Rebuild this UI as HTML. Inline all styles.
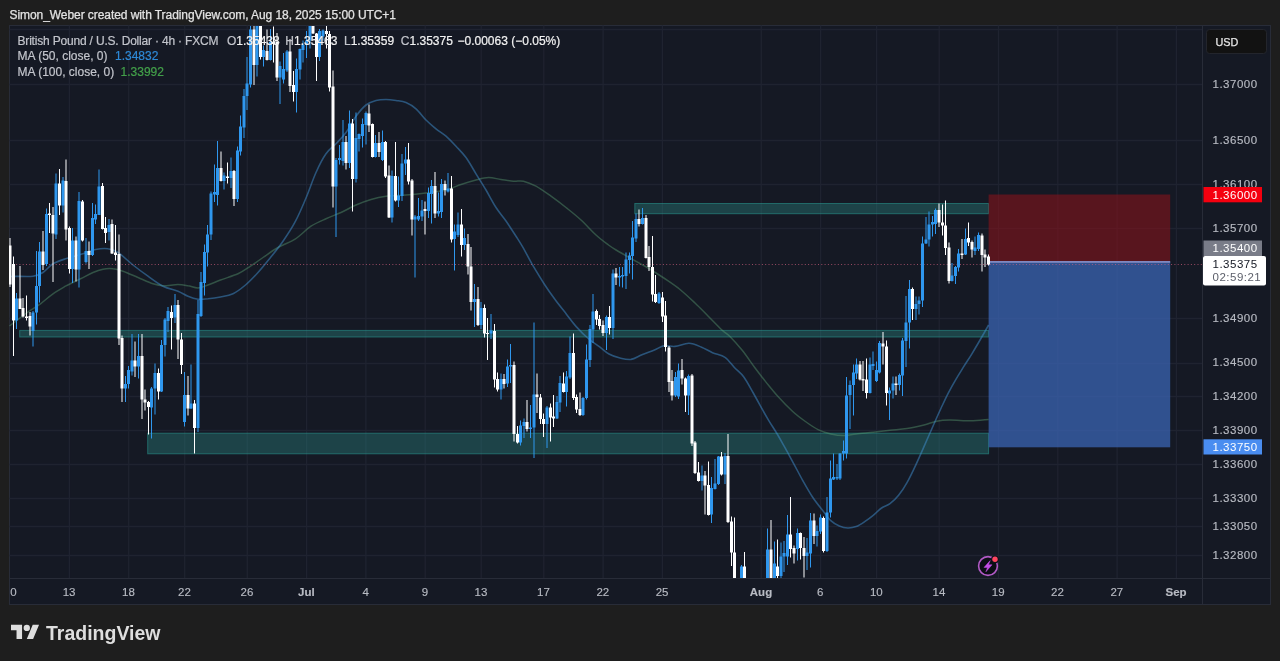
<!DOCTYPE html>
<html><head><meta charset="utf-8"><title>GBPUSD</title>
<style>html,body{margin:0;padding:0;background:#1e1e1e;overflow:hidden}body{width:1280px;height:661px;font-family:"Liberation Sans",sans-serif}</style></head>
<body>
<svg width="1280" height="661" viewBox="0 0 1280 661" style="display:block;will-change:transform;font-family:'Liberation Sans',sans-serif">
<rect width="1280" height="661" fill="#1e1e1e"/>
<rect x="9.5" y="25.5" width="1261.0" height="579.0" fill="#151924" stroke="#282c38" stroke-width="1"/>
<defs><clipPath id="plot"><rect x="9.0" y="26.0" width="1193.5" height="552.5"/></clipPath></defs>
<g stroke="#1f2330" stroke-width="1.3">
<line x1="69.4" y1="25.5" x2="69.4" y2="578.5"/>
<line x1="128.7" y1="25.5" x2="128.7" y2="578.5"/>
<line x1="184.7" y1="25.5" x2="184.7" y2="578.5"/>
<line x1="247.3" y1="25.5" x2="247.3" y2="578.5"/>
<line x1="306.6" y1="25.5" x2="306.6" y2="578.5"/>
<line x1="365.9" y1="25.5" x2="365.9" y2="578.5"/>
<line x1="425.2" y1="25.5" x2="425.2" y2="578.5"/>
<line x1="481.2" y1="25.5" x2="481.2" y2="578.5"/>
<line x1="543.8" y1="25.5" x2="543.8" y2="578.5"/>
<line x1="603.1" y1="25.5" x2="603.1" y2="578.5"/>
<line x1="662.4" y1="25.5" x2="662.4" y2="578.5"/>
<line x1="761.3" y1="25.5" x2="761.3" y2="578.5"/>
<line x1="820.6" y1="25.5" x2="820.6" y2="578.5"/>
<line x1="876.6" y1="25.5" x2="876.6" y2="578.5"/>
<line x1="939.2" y1="25.5" x2="939.2" y2="578.5"/>
<line x1="998.5" y1="25.5" x2="998.5" y2="578.5"/>
<line x1="1057.8" y1="25.5" x2="1057.8" y2="578.5"/>
<line x1="1117.1" y1="25.5" x2="1117.1" y2="578.5"/>
<line x1="1176.4" y1="25.5" x2="1176.4" y2="578.5"/>
<line x1="9.5" y1="29.5" x2="1202.5" y2="29.5"/>
<line x1="9.5" y1="84.5" x2="1202.5" y2="84.5"/>
<line x1="9.5" y1="140.5" x2="1202.5" y2="140.5"/>
<line x1="9.5" y1="184.5" x2="1202.5" y2="184.5"/>
<line x1="9.5" y1="228.5" x2="1202.5" y2="228.5"/>
<line x1="9.5" y1="318.5" x2="1202.5" y2="318.5"/>
<line x1="9.5" y1="363.5" x2="1202.5" y2="363.5"/>
<line x1="9.5" y1="396.5" x2="1202.5" y2="396.5"/>
<line x1="9.5" y1="430.5" x2="1202.5" y2="430.5"/>
<line x1="9.5" y1="464.5" x2="1202.5" y2="464.5"/>
<line x1="9.5" y1="498.5" x2="1202.5" y2="498.5"/>
<line x1="9.5" y1="526.5" x2="1202.5" y2="526.5"/>
<line x1="9.5" y1="555.5" x2="1202.5" y2="555.5"/>
</g>
<g clip-path="url(#plot)">
<rect x="634.8" y="203.5" width="353.80000000000007" height="10.199999999999989" fill="#287f7c" fill-opacity="0.42" stroke="#2a9a92" stroke-opacity="0.55" stroke-width="1"/>
<rect x="19.7" y="330.4" width="968.9" height="6.600000000000023" fill="#287f7c" fill-opacity="0.42" stroke="#2a9a92" stroke-opacity="0.55" stroke-width="1"/>
<rect x="147.7" y="433.2" width="840.9000000000001" height="20.600000000000023" fill="#287f7c" fill-opacity="0.42" stroke="#2a9a92" stroke-opacity="0.55" stroke-width="1"/>
<rect x="988.6" y="194.5" width="181.6" height="67" fill="#85121a" fill-opacity="0.6"/>
<rect x="988.6" y="262" width="181.6" height="185.3" fill="#3b66b8" fill-opacity="0.72"/>
<rect x="988.6" y="261" width="181.6" height="1.8" fill="#7f88c0"/>
<path d="M9.5 326.0 C11.2 324.7 16.7 320.5 20.0 318.0 C23.3 315.5 25.8 313.6 29.2 311.2 C32.7 308.9 36.5 306.7 40.5 303.8 C44.5 300.8 48.8 296.7 53.0 293.8 C57.2 290.8 60.9 288.8 65.5 286.2 C70.1 283.8 75.9 281.0 80.5 278.8 C85.1 276.5 89.2 274.1 93.0 272.5 C96.8 270.9 99.7 269.9 103.0 269.2 C106.3 268.6 109.7 268.4 113.0 268.8 C116.3 269.1 118.8 269.8 123.0 271.2 C127.2 272.7 133.0 275.4 138.0 277.5 C143.0 279.6 148.8 282.4 153.0 283.8 C157.2 285.1 158.8 285.6 163.0 285.8 C167.2 285.9 173.8 284.5 178.0 284.5 C182.2 284.5 184.7 285.2 188.0 285.8 C191.3 286.3 194.7 288.1 198.0 288.0 C201.3 287.9 204.2 286.3 208.0 285.0 C211.8 283.7 215.5 281.9 220.5 280.0 C225.5 278.1 233.0 276.0 238.0 273.8 C243.0 271.5 246.3 269.0 250.5 266.2 C254.7 263.5 258.4 260.6 263.0 257.5 C267.6 254.4 272.6 250.6 278.0 247.5 C283.4 244.4 290.0 242.3 295.5 238.8 C301.0 235.2 305.9 229.6 311.0 226.2 C316.1 222.9 321.0 221.0 326.0 218.8 C331.0 216.5 336.0 214.8 341.0 212.5 C346.0 210.2 351.0 207.2 356.0 205.0 C361.0 202.8 366.0 201.0 371.0 199.5 C376.0 198.0 380.2 197.0 386.0 196.2 C391.8 195.5 399.3 195.5 406.0 195.0 C412.7 194.5 419.3 193.8 426.0 193.0 C432.7 192.2 440.2 191.4 446.0 190.0 C451.8 188.6 456.0 186.2 461.0 184.5 C466.0 182.8 471.4 181.2 476.0 180.0 C480.6 178.8 484.3 177.6 488.5 177.5 C492.7 177.4 496.8 178.9 501.0 179.5 C505.2 180.1 509.8 181.0 513.5 181.2 C517.2 181.5 519.8 180.4 523.5 181.2 C527.2 182.1 531.4 183.8 536.0 186.2 C540.6 188.8 546.0 192.7 551.0 196.2 C556.0 199.8 561.0 203.5 566.0 207.5 C571.0 211.5 576.0 215.4 581.0 220.0 C586.0 224.6 591.4 230.8 596.0 235.0 C600.6 239.2 605.0 242.4 608.5 245.0 C612.0 247.6 612.9 248.1 616.9 250.5 C620.9 252.9 627.3 256.5 632.5 259.4 C637.7 262.3 642.8 264.9 648.0 268.0 C653.2 271.1 658.5 274.5 663.8 278.0 C669.0 281.5 674.2 284.8 679.4 289.0 C684.6 293.2 690.2 298.5 695.0 303.0 C699.8 307.5 703.5 311.5 708.0 316.0 C712.5 320.5 718.3 326.6 721.9 330.0 C725.5 333.4 726.3 332.9 729.7 336.2 C733.1 339.6 738.0 345.1 742.2 350.3 C746.4 355.5 750.8 362.3 754.7 367.5 C758.6 372.7 761.7 376.8 765.6 381.6 C769.5 386.4 773.5 391.5 778.0 396.5 C782.5 401.5 788.1 407.3 792.7 411.5 C797.3 415.7 801.2 418.5 805.4 421.5 C809.6 424.5 813.8 427.5 818.0 429.6 C822.2 431.7 826.5 432.9 830.8 433.9 C835.0 434.9 839.3 435.6 843.5 435.6 C847.7 435.6 851.2 434.5 856.2 433.9 C861.2 433.3 867.6 432.8 873.2 432.2 C878.8 431.6 884.4 430.9 890.0 430.3 C895.6 429.7 901.3 429.5 907.0 428.6 C912.7 427.7 919.0 426.2 924.0 425.0 C929.0 423.8 932.5 422.0 936.7 421.2 C940.9 420.4 943.8 420.1 949.4 420.0 C955.0 419.9 964.1 420.8 970.6 420.8 C977.1 420.7 985.6 419.7 988.6 419.5" fill="none" stroke="#5fa878" stroke-opacity="0.4" stroke-width="1.5" stroke-linejoin="round"/>
<path d="M9.5 276.5 C10.5 276.5 11.6 276.3 15.5 276.2 C19.4 276.2 28.4 276.9 33.0 276.2 C37.6 275.6 39.7 274.6 43.0 272.5 C46.3 270.4 49.2 266.0 53.0 263.8 C56.8 261.5 60.5 260.4 65.5 258.8 C70.5 257.1 78.0 255.3 83.0 253.8 C88.0 252.2 91.3 250.3 95.5 249.5 C99.7 248.7 104.2 248.2 108.0 248.8 C111.8 249.2 113.8 249.8 118.0 252.5 C122.2 255.2 128.0 261.0 133.0 265.0 C138.0 269.0 143.0 272.7 148.0 276.2 C153.0 279.8 158.0 283.8 163.0 286.2 C168.0 288.8 173.8 289.6 178.0 291.2 C182.2 292.9 184.7 294.9 188.0 296.2 C191.3 297.6 194.7 298.8 198.0 299.2 C201.3 299.7 204.2 299.1 208.0 298.8 C211.8 298.4 216.3 297.8 220.5 297.0 C224.7 296.2 228.8 295.8 233.0 293.8 C237.2 291.8 241.3 288.5 245.5 285.0 C249.7 281.5 253.8 277.1 258.0 272.5 C262.2 267.9 266.3 262.7 270.5 257.5 C274.7 252.3 278.8 247.3 283.0 241.2 C287.2 235.2 291.7 228.5 295.5 221.2 C299.3 214.0 302.6 206.1 306.0 198.0 C309.4 189.9 312.7 179.9 316.0 172.5 C319.3 165.1 322.7 158.5 326.0 153.8 C329.3 149.0 332.7 147.3 336.0 143.8 C339.3 140.2 342.7 137.1 346.0 132.5 C349.3 127.9 352.7 120.8 356.0 116.2 C359.3 111.7 362.7 107.6 366.0 105.0 C369.3 102.4 372.7 101.4 376.0 100.5 C379.3 99.6 382.7 99.5 386.0 99.5 C389.3 99.5 392.7 100.0 396.0 100.5 C399.3 101.0 402.7 101.1 406.0 102.5 C409.3 103.9 412.7 105.8 416.0 108.8 C419.3 111.7 422.7 116.7 426.0 120.0 C429.3 123.3 432.7 126.0 436.0 128.8 C439.3 131.5 442.7 133.3 446.0 136.2 C449.3 139.2 452.7 142.7 456.0 146.2 C459.3 149.8 462.7 152.9 466.0 157.5 C469.3 162.1 472.7 168.3 476.0 173.8 C479.3 179.2 482.7 184.4 486.0 190.0 C489.3 195.6 492.7 202.3 496.0 207.5 C499.3 212.7 502.7 216.2 506.0 221.0 C509.3 225.8 513.2 231.9 516.0 236.2 C518.8 240.6 520.1 242.5 522.8 247.2 C525.5 251.9 528.6 258.1 532.2 264.4 C535.9 270.6 540.8 278.7 544.7 284.7 C548.6 290.7 552.0 295.4 555.6 300.3 C559.2 305.2 563.2 310.0 566.6 314.4 C570.0 318.8 572.6 322.5 576.2 326.6 C579.9 330.7 584.8 335.6 588.8 339.0 C592.7 342.4 596.3 344.4 599.7 346.9 C603.1 349.4 605.6 352.1 609.0 354.0 C612.4 355.9 616.3 357.1 620.0 358.0 C623.7 358.9 627.4 359.9 631.0 359.4 C634.6 358.8 638.0 356.3 641.9 354.7 C645.8 353.1 650.7 351.5 654.4 350.0 C658.1 348.5 660.6 346.4 664.0 345.8 C667.4 345.2 670.8 346.8 675.0 346.4 C679.2 346.0 684.6 343.2 689.0 343.3 C693.4 343.4 697.7 345.6 701.6 347.2 C705.5 348.8 708.6 351.0 712.5 352.7 C716.4 354.4 721.4 354.8 725.0 357.3 C728.6 359.8 731.3 364.2 734.4 367.5 C737.5 370.8 740.6 372.7 743.8 376.9 C746.9 381.1 749.9 387.0 753.0 392.5 C756.1 398.0 759.9 405.0 762.5 409.7 C765.1 414.4 766.4 416.7 768.8 420.6 C771.1 424.5 774.0 428.7 776.6 433.0 C779.2 437.3 781.5 441.5 784.4 446.6 C787.3 451.7 790.6 458.0 793.8 463.8 C796.9 469.5 799.9 475.5 803.0 481.0 C806.1 486.5 809.3 492.2 812.5 497.0 C815.7 501.8 819.2 506.1 822.3 510.0 C825.3 514.0 828.0 518.0 830.8 520.7 C833.6 523.4 836.5 524.8 839.3 526.0 C842.1 527.2 844.9 527.9 847.8 528.0 C850.6 528.1 853.4 527.6 856.2 526.6 C859.0 525.6 861.9 523.6 864.7 521.7 C867.5 519.8 870.4 517.7 873.2 515.4 C876.0 513.1 878.8 509.9 881.6 508.0 C884.4 506.1 887.2 505.8 890.0 503.7 C892.8 501.6 895.8 498.8 898.6 495.3 C901.4 491.8 904.2 487.6 907.0 482.6 C909.8 477.7 912.7 471.6 915.5 465.6 C918.3 459.6 921.2 453.0 924.0 446.6 C926.8 440.2 929.6 433.9 932.4 427.5 C935.2 421.1 938.2 414.3 940.9 408.5 C943.6 402.7 945.8 397.8 948.4 392.8 C951.0 387.8 953.6 383.2 956.2 378.8 C958.9 374.3 961.4 370.4 964.0 366.2 C966.6 362.1 969.0 358.5 971.9 353.8 C974.8 349.0 978.5 342.8 981.2 338.0 C984.0 333.2 987.4 327.2 988.6 325.0" fill="none" stroke="#3f8fd0" stroke-opacity="0.5" stroke-width="1.6" stroke-linejoin="round"/>
<line x1="9.5" y1="264.5" x2="1202.5" y2="264.5" stroke="#d2607f" stroke-opacity="0.7" stroke-width="1" stroke-dasharray="1 2.3"/>
<rect x="9.5" y="238.0" width="1" height="49.0" fill="#ffffff"/>
<rect x="13.0" y="256.5" width="1" height="99.5" fill="#ffffff"/>
<rect x="16.0" y="293.0" width="1" height="36.0" fill="#2f97ee"/>
<rect x="19.5" y="266.0" width="1" height="43.0" fill="#ffffff"/>
<rect x="22.5" y="298.0" width="1" height="19.5" fill="#ffffff"/>
<rect x="26.0" y="295.5" width="1" height="25.0" fill="#ffffff"/>
<rect x="29.5" y="312.0" width="1" height="23.5" fill="#ffffff"/>
<rect x="32.5" y="311.0" width="1" height="35.5" fill="#2f97ee"/>
<rect x="36.0" y="251.0" width="1" height="73.5" fill="#2f97ee"/>
<rect x="39.0" y="242.0" width="1" height="60.5" fill="#2f97ee"/>
<rect x="42.5" y="231.0" width="1" height="39.0" fill="#ffffff"/>
<rect x="46.0" y="208.5" width="1" height="57.5" fill="#2f97ee"/>
<rect x="49.0" y="203.0" width="1" height="30.0" fill="#ffffff"/>
<rect x="52.5" y="207.0" width="1" height="75.0" fill="#ffffff"/>
<rect x="55.5" y="173.5" width="1" height="65.5" fill="#2f97ee"/>
<rect x="59.0" y="169.0" width="1" height="46.0" fill="#ffffff"/>
<rect x="62.5" y="177.0" width="1" height="35.5" fill="#2f97ee"/>
<rect x="65.5" y="159.5" width="1" height="81.0" fill="#ffffff"/>
<rect x="69.0" y="226.5" width="1" height="47.0" fill="#ffffff"/>
<rect x="72.0" y="228.0" width="1" height="55.0" fill="#2f97ee"/>
<rect x="75.5" y="236.5" width="1" height="45.0" fill="#ffffff"/>
<rect x="78.5" y="192.0" width="1" height="95.5" fill="#2f97ee"/>
<rect x="82.0" y="200.0" width="1" height="41.5" fill="#ffffff"/>
<rect x="85.5" y="238.0" width="1" height="25.5" fill="#2f97ee"/>
<rect x="88.5" y="241.5" width="1" height="27.5" fill="#ffffff"/>
<rect x="92.0" y="203.0" width="1" height="53.0" fill="#2f97ee"/>
<rect x="95.0" y="204.5" width="1" height="19.5" fill="#2f97ee"/>
<rect x="98.5" y="169.5" width="1" height="45.5" fill="#2f97ee"/>
<rect x="102.0" y="183.0" width="1" height="46.5" fill="#ffffff"/>
<rect x="105.0" y="217.0" width="1" height="26.0" fill="#ffffff"/>
<rect x="108.5" y="219.0" width="1" height="21.5" fill="#2f97ee"/>
<rect x="111.5" y="219.5" width="1" height="34.5" fill="#ffffff"/>
<rect x="115.0" y="225.0" width="1" height="35.5" fill="#ffffff"/>
<rect x="118.5" y="234.5" width="1" height="110.5" fill="#ffffff"/>
<rect x="121.5" y="335.5" width="1" height="66.5" fill="#ffffff"/>
<rect x="125.0" y="376.0" width="1" height="26.0" fill="#2f97ee"/>
<rect x="128.0" y="366.0" width="1" height="22.5" fill="#2f97ee"/>
<rect x="131.5" y="334.0" width="1" height="41.5" fill="#2f97ee"/>
<rect x="134.5" y="341.5" width="1" height="35.5" fill="#ffffff"/>
<rect x="138.0" y="334.0" width="1" height="44.5" fill="#2f97ee"/>
<rect x="141.5" y="334.0" width="1" height="85.0" fill="#ffffff"/>
<rect x="144.5" y="389.5" width="1" height="21.0" fill="#ffffff"/>
<rect x="148.0" y="401.0" width="1" height="33.5" fill="#ffffff"/>
<rect x="151.0" y="387.0" width="1" height="51.5" fill="#2f97ee"/>
<rect x="154.5" y="363.5" width="1" height="51.0" fill="#2f97ee"/>
<rect x="158.0" y="368.5" width="1" height="31.0" fill="#ffffff"/>
<rect x="161.0" y="340.0" width="1" height="52.0" fill="#2f97ee"/>
<rect x="164.5" y="318.0" width="1" height="38.5" fill="#2f97ee"/>
<rect x="167.5" y="307.0" width="1" height="25.0" fill="#2f97ee"/>
<rect x="171.0" y="305.5" width="1" height="44.0" fill="#ffffff"/>
<rect x="174.5" y="294.0" width="1" height="29.0" fill="#2f97ee"/>
<rect x="177.5" y="300.0" width="1" height="59.0" fill="#ffffff"/>
<rect x="181.0" y="333.0" width="1" height="41.0" fill="#ffffff"/>
<rect x="184.0" y="372.0" width="1" height="54.5" fill="#2f97ee"/>
<rect x="187.5" y="376.0" width="1" height="39.5" fill="#ffffff"/>
<rect x="190.5" y="364.5" width="1" height="44.5" fill="#2f97ee"/>
<rect x="194.0" y="400.0" width="1" height="53.5" fill="#ffffff"/>
<rect x="197.5" y="300.0" width="1" height="132.0" fill="#2f97ee"/>
<rect x="200.5" y="272.0" width="1" height="45.0" fill="#2f97ee"/>
<rect x="204.0" y="244.5" width="1" height="51.0" fill="#2f97ee"/>
<rect x="207.0" y="225.0" width="1" height="41.5" fill="#2f97ee"/>
<rect x="210.5" y="191.5" width="1" height="48.5" fill="#2f97ee"/>
<rect x="214.0" y="164.5" width="1" height="37.5" fill="#2f97ee"/>
<rect x="217.0" y="141.0" width="1" height="64.5" fill="#2f97ee"/>
<rect x="220.5" y="151.5" width="1" height="30.0" fill="#ffffff"/>
<rect x="223.5" y="172.5" width="1" height="17.0" fill="#2f97ee"/>
<rect x="227.0" y="162.5" width="1" height="21.0" fill="#ffffff"/>
<rect x="230.5" y="157.5" width="1" height="30.5" fill="#2f97ee"/>
<rect x="233.5" y="170.0" width="1" height="36.0" fill="#ffffff"/>
<rect x="237.0" y="146.5" width="1" height="55.5" fill="#2f97ee"/>
<rect x="240.0" y="115.5" width="1" height="40.0" fill="#2f97ee"/>
<rect x="243.5" y="89.0" width="1" height="49.0" fill="#2f97ee"/>
<rect x="246.5" y="57.0" width="1" height="53.0" fill="#2f97ee"/>
<rect x="250.0" y="25.0" width="1" height="62.5" fill="#2f97ee"/>
<rect x="253.5" y="25.0" width="1" height="60.0" fill="#ffffff"/>
<rect x="256.5" y="25.0" width="1" height="51.5" fill="#2f97ee"/>
<rect x="260.0" y="25.0" width="1" height="34.5" fill="#ffffff"/>
<rect x="263.0" y="45.5" width="1" height="21.0" fill="#2f97ee"/>
<rect x="266.5" y="29.5" width="1" height="31.0" fill="#ffffff"/>
<rect x="270.0" y="29.0" width="1" height="31.5" fill="#2f97ee"/>
<rect x="273.0" y="26.5" width="1" height="36.0" fill="#ffffff"/>
<rect x="276.5" y="33.0" width="1" height="48.0" fill="#ffffff"/>
<rect x="279.5" y="61.5" width="1" height="42.5" fill="#2f97ee"/>
<rect x="283.0" y="53.0" width="1" height="30.5" fill="#2f97ee"/>
<rect x="286.5" y="50.0" width="1" height="22.0" fill="#2f97ee"/>
<rect x="289.5" y="39.0" width="1" height="53.0" fill="#ffffff"/>
<rect x="293.0" y="71.0" width="1" height="30.5" fill="#ffffff"/>
<rect x="296.0" y="58.5" width="1" height="54.0" fill="#2f97ee"/>
<rect x="299.5" y="48.5" width="1" height="31.0" fill="#2f97ee"/>
<rect x="302.5" y="40.5" width="1" height="22.0" fill="#2f97ee"/>
<rect x="306.0" y="31.0" width="1" height="27.0" fill="#2f97ee"/>
<rect x="309.5" y="25.0" width="1" height="23.5" fill="#2f97ee"/>
<rect x="312.5" y="25.0" width="1" height="9.0" fill="#ffffff"/>
<rect x="316.0" y="33.0" width="1" height="48.0" fill="#ffffff"/>
<rect x="319.0" y="29.0" width="1" height="32.0" fill="#2f97ee"/>
<rect x="322.5" y="29.5" width="1" height="11.0" fill="#2f97ee"/>
<rect x="326.0" y="26.0" width="1" height="22.5" fill="#ffffff"/>
<rect x="329.0" y="31.0" width="1" height="60.5" fill="#ffffff"/>
<rect x="332.5" y="70.5" width="1" height="137.0" fill="#ffffff"/>
<rect x="335.5" y="158.0" width="1" height="79.0" fill="#2f97ee"/>
<rect x="339.0" y="145.0" width="1" height="19.5" fill="#2f97ee"/>
<rect x="342.5" y="120.0" width="1" height="45.5" fill="#2f97ee"/>
<rect x="345.5" y="136.0" width="1" height="33.5" fill="#ffffff"/>
<rect x="349.0" y="110.5" width="1" height="57.5" fill="#2f97ee"/>
<rect x="352.0" y="119.0" width="1" height="92.5" fill="#ffffff"/>
<rect x="355.5" y="112.5" width="1" height="70.0" fill="#2f97ee"/>
<rect x="358.5" y="133.5" width="1" height="18.0" fill="#2f97ee"/>
<rect x="362.0" y="118.5" width="1" height="29.0" fill="#2f97ee"/>
<rect x="365.5" y="111.5" width="1" height="33.0" fill="#2f97ee"/>
<rect x="368.5" y="104.5" width="1" height="27.5" fill="#ffffff"/>
<rect x="372.0" y="123.5" width="1" height="34.0" fill="#ffffff"/>
<rect x="375.0" y="135.0" width="1" height="22.5" fill="#2f97ee"/>
<rect x="378.5" y="132.0" width="1" height="25.0" fill="#ffffff"/>
<rect x="382.0" y="130.5" width="1" height="30.5" fill="#2f97ee"/>
<rect x="385.0" y="141.0" width="1" height="37.0" fill="#ffffff"/>
<rect x="388.5" y="165.5" width="1" height="52.5" fill="#ffffff"/>
<rect x="391.5" y="170.5" width="1" height="52.0" fill="#2f97ee"/>
<rect x="395.0" y="142.0" width="1" height="59.5" fill="#ffffff"/>
<rect x="398.0" y="176.5" width="1" height="30.5" fill="#2f97ee"/>
<rect x="401.5" y="154.0" width="1" height="47.0" fill="#2f97ee"/>
<rect x="405.0" y="147.0" width="1" height="28.0" fill="#2f97ee"/>
<rect x="408.0" y="143.0" width="1" height="41.5" fill="#ffffff"/>
<rect x="411.5" y="179.0" width="1" height="56.5" fill="#ffffff"/>
<rect x="414.5" y="215.0" width="1" height="62.5" fill="#2f97ee"/>
<rect x="418.0" y="198.0" width="1" height="23.0" fill="#2f97ee"/>
<rect x="421.5" y="200.0" width="1" height="21.0" fill="#2f97ee"/>
<rect x="424.5" y="201.5" width="1" height="33.0" fill="#ffffff"/>
<rect x="428.0" y="187.5" width="1" height="30.5" fill="#2f97ee"/>
<rect x="431.0" y="180.0" width="1" height="43.5" fill="#2f97ee"/>
<rect x="434.5" y="172.0" width="1" height="46.0" fill="#ffffff"/>
<rect x="438.0" y="192.5" width="1" height="24.0" fill="#2f97ee"/>
<rect x="441.0" y="179.0" width="1" height="39.0" fill="#2f97ee"/>
<rect x="444.5" y="180.5" width="1" height="15.0" fill="#ffffff"/>
<rect x="447.5" y="173.0" width="1" height="19.5" fill="#2f97ee"/>
<rect x="451.0" y="176.0" width="1" height="66.5" fill="#ffffff"/>
<rect x="454.0" y="224.5" width="1" height="46.0" fill="#2f97ee"/>
<rect x="457.5" y="212.5" width="1" height="24.5" fill="#2f97ee"/>
<rect x="461.0" y="209.0" width="1" height="47.5" fill="#ffffff"/>
<rect x="464.0" y="228.5" width="1" height="21.5" fill="#2f97ee"/>
<rect x="467.5" y="234.0" width="1" height="40.5" fill="#ffffff"/>
<rect x="470.5" y="247.0" width="1" height="63.5" fill="#ffffff"/>
<rect x="474.0" y="284.0" width="1" height="43.0" fill="#2f97ee"/>
<rect x="477.5" y="287.0" width="1" height="39.0" fill="#ffffff"/>
<rect x="480.5" y="302.0" width="1" height="27.0" fill="#2f97ee"/>
<rect x="484.0" y="304.5" width="1" height="33.0" fill="#ffffff"/>
<rect x="487.0" y="318.0" width="1" height="42.0" fill="#ffffff"/>
<rect x="490.5" y="314.0" width="1" height="25.0" fill="#2f97ee"/>
<rect x="494.0" y="324.0" width="1" height="63.5" fill="#ffffff"/>
<rect x="497.0" y="372.5" width="1" height="19.0" fill="#ffffff"/>
<rect x="500.5" y="373.5" width="1" height="26.0" fill="#2f97ee"/>
<rect x="503.5" y="374.0" width="1" height="14.5" fill="#ffffff"/>
<rect x="507.0" y="359.5" width="1" height="27.5" fill="#2f97ee"/>
<rect x="510.0" y="344.0" width="1" height="39.0" fill="#2f97ee"/>
<rect x="513.5" y="361.5" width="1" height="80.0" fill="#ffffff"/>
<rect x="517.0" y="426.0" width="1" height="17.5" fill="#ffffff"/>
<rect x="520.0" y="420.5" width="1" height="25.0" fill="#2f97ee"/>
<rect x="523.5" y="418.5" width="1" height="19.5" fill="#2f97ee"/>
<rect x="526.5" y="400.0" width="1" height="31.5" fill="#ffffff"/>
<rect x="530.0" y="405.0" width="1" height="33.0" fill="#2f97ee"/>
<rect x="533.5" y="322.5" width="1" height="135.5" fill="#2f97ee"/>
<rect x="536.5" y="373.5" width="1" height="39.5" fill="#ffffff"/>
<rect x="540.0" y="394.0" width="1" height="30.0" fill="#ffffff"/>
<rect x="543.0" y="413.5" width="1" height="23.5" fill="#ffffff"/>
<rect x="546.5" y="406.0" width="1" height="42.0" fill="#2f97ee"/>
<rect x="550.0" y="403.5" width="1" height="38.0" fill="#ffffff"/>
<rect x="553.0" y="395.0" width="1" height="32.0" fill="#ffffff"/>
<rect x="556.5" y="396.0" width="1" height="23.0" fill="#2f97ee"/>
<rect x="559.5" y="376.0" width="1" height="36.0" fill="#2f97ee"/>
<rect x="563.0" y="372.5" width="1" height="20.0" fill="#ffffff"/>
<rect x="566.0" y="371.0" width="1" height="35.5" fill="#2f97ee"/>
<rect x="569.5" y="336.5" width="1" height="42.5" fill="#2f97ee"/>
<rect x="573.0" y="333.5" width="1" height="66.5" fill="#ffffff"/>
<rect x="576.0" y="394.5" width="1" height="18.5" fill="#ffffff"/>
<rect x="579.5" y="392.5" width="1" height="23.5" fill="#ffffff"/>
<rect x="582.5" y="397.0" width="1" height="19.0" fill="#2f97ee"/>
<rect x="586.0" y="344.5" width="1" height="55.0" fill="#2f97ee"/>
<rect x="589.5" y="325.0" width="1" height="42.0" fill="#2f97ee"/>
<rect x="592.5" y="294.0" width="1" height="49.0" fill="#2f97ee"/>
<rect x="596.0" y="309.5" width="1" height="15.5" fill="#ffffff"/>
<rect x="599.0" y="315.0" width="1" height="14.5" fill="#ffffff"/>
<rect x="602.5" y="320.5" width="1" height="15.5" fill="#ffffff"/>
<rect x="606.0" y="315.5" width="1" height="34.5" fill="#2f97ee"/>
<rect x="609.0" y="306.0" width="1" height="28.5" fill="#ffffff"/>
<rect x="612.5" y="269.5" width="1" height="69.5" fill="#2f97ee"/>
<rect x="615.5" y="268.0" width="1" height="17.0" fill="#ffffff"/>
<rect x="619.0" y="267.0" width="1" height="19.5" fill="#2f97ee"/>
<rect x="622.0" y="267.0" width="1" height="20.5" fill="#2f97ee"/>
<rect x="625.5" y="252.5" width="1" height="36.5" fill="#2f97ee"/>
<rect x="629.0" y="252.5" width="1" height="21.0" fill="#2f97ee"/>
<rect x="632.0" y="221.0" width="1" height="58.5" fill="#2f97ee"/>
<rect x="635.5" y="213.5" width="1" height="28.5" fill="#2f97ee"/>
<rect x="638.5" y="209.5" width="1" height="17.0" fill="#ffffff"/>
<rect x="642.0" y="208.0" width="1" height="16.5" fill="#2f97ee"/>
<rect x="645.5" y="215.0" width="1" height="43.5" fill="#ffffff"/>
<rect x="648.5" y="246.0" width="1" height="25.0" fill="#ffffff"/>
<rect x="652.0" y="236.0" width="1" height="65.5" fill="#ffffff"/>
<rect x="655.0" y="275.0" width="1" height="28.0" fill="#ffffff"/>
<rect x="658.5" y="292.0" width="1" height="12.0" fill="#2f97ee"/>
<rect x="662.0" y="292.0" width="1" height="30.0" fill="#ffffff"/>
<rect x="665.0" y="301.0" width="1" height="50.5" fill="#ffffff"/>
<rect x="668.5" y="346.0" width="1" height="46.0" fill="#ffffff"/>
<rect x="671.5" y="370.0" width="1" height="30.5" fill="#ffffff"/>
<rect x="675.0" y="372.0" width="1" height="25.0" fill="#2f97ee"/>
<rect x="678.0" y="363.5" width="1" height="35.5" fill="#2f97ee"/>
<rect x="681.5" y="359.0" width="1" height="25.5" fill="#ffffff"/>
<rect x="685.0" y="377.5" width="1" height="34.5" fill="#ffffff"/>
<rect x="688.0" y="374.5" width="1" height="40.5" fill="#2f97ee"/>
<rect x="691.5" y="374.0" width="1" height="72.0" fill="#ffffff"/>
<rect x="694.5" y="441.0" width="1" height="33.0" fill="#ffffff"/>
<rect x="698.0" y="462.0" width="1" height="19.5" fill="#ffffff"/>
<rect x="701.5" y="465.5" width="1" height="25.0" fill="#2f97ee"/>
<rect x="704.5" y="471.0" width="1" height="43.5" fill="#ffffff"/>
<rect x="708.0" y="461.5" width="1" height="54.0" fill="#ffffff"/>
<rect x="711.0" y="477.0" width="1" height="46.0" fill="#2f97ee"/>
<rect x="714.5" y="459.0" width="1" height="30.5" fill="#2f97ee"/>
<rect x="718.0" y="456.0" width="1" height="29.0" fill="#2f97ee"/>
<rect x="721.0" y="452.0" width="1" height="23.5" fill="#ffffff"/>
<rect x="724.5" y="453.0" width="1" height="31.0" fill="#2f97ee"/>
<rect x="727.5" y="434.0" width="1" height="89.0" fill="#ffffff"/>
<rect x="731.0" y="516.5" width="1" height="49.5" fill="#ffffff"/>
<rect x="734.0" y="517.5" width="1" height="92.5" fill="#ffffff"/>
<rect x="741.0" y="565.0" width="1" height="35.0" fill="#2f97ee"/>
<rect x="744.0" y="552.0" width="1" height="48.0" fill="#ffffff"/>
<rect x="767.0" y="528.5" width="1" height="71.5" fill="#2f97ee"/>
<rect x="770.5" y="520.0" width="1" height="80.0" fill="#ffffff"/>
<rect x="774.0" y="541.5" width="1" height="58.5" fill="#2f97ee"/>
<rect x="777.0" y="539.5" width="1" height="40.5" fill="#ffffff"/>
<rect x="780.5" y="542.5" width="1" height="37.5" fill="#2f97ee"/>
<rect x="783.5" y="541.0" width="1" height="31.0" fill="#2f97ee"/>
<rect x="787.0" y="515.0" width="1" height="50.0" fill="#2f97ee"/>
<rect x="790.0" y="497.0" width="1" height="60.5" fill="#ffffff"/>
<rect x="793.5" y="545.5" width="1" height="18.0" fill="#ffffff"/>
<rect x="797.0" y="528.5" width="1" height="32.0" fill="#2f97ee"/>
<rect x="800.0" y="532.5" width="1" height="27.0" fill="#ffffff"/>
<rect x="803.5" y="537.0" width="1" height="40.5" fill="#ffffff"/>
<rect x="806.5" y="538.0" width="1" height="32.0" fill="#2f97ee"/>
<rect x="810.0" y="513.0" width="1" height="54.5" fill="#2f97ee"/>
<rect x="813.5" y="513.5" width="1" height="30.5" fill="#ffffff"/>
<rect x="816.5" y="525.5" width="1" height="21.0" fill="#2f97ee"/>
<rect x="820.0" y="514.5" width="1" height="19.5" fill="#2f97ee"/>
<rect x="823.0" y="516.5" width="1" height="36.0" fill="#ffffff"/>
<rect x="826.5" y="497.0" width="1" height="55.0" fill="#2f97ee"/>
<rect x="830.0" y="460.5" width="1" height="57.0" fill="#2f97ee"/>
<rect x="833.0" y="453.5" width="1" height="26.5" fill="#2f97ee"/>
<rect x="836.5" y="464.0" width="1" height="16.0" fill="#2f97ee"/>
<rect x="839.5" y="453.0" width="1" height="27.0" fill="#2f97ee"/>
<rect x="843.0" y="440.5" width="1" height="20.0" fill="#2f97ee"/>
<rect x="846.0" y="377.0" width="1" height="81.5" fill="#2f97ee"/>
<rect x="849.5" y="380.5" width="1" height="48.5" fill="#2f97ee"/>
<rect x="853.0" y="364.5" width="1" height="51.0" fill="#2f97ee"/>
<rect x="856.0" y="358.5" width="1" height="20.5" fill="#2f97ee"/>
<rect x="859.5" y="361.0" width="1" height="19.5" fill="#ffffff"/>
<rect x="862.5" y="361.0" width="1" height="30.0" fill="#ffffff"/>
<rect x="866.0" y="358.5" width="1" height="40.0" fill="#ffffff"/>
<rect x="869.5" y="357.5" width="1" height="36.0" fill="#2f97ee"/>
<rect x="872.5" y="351.5" width="1" height="18.5" fill="#2f97ee"/>
<rect x="876.0" y="361.5" width="1" height="20.5" fill="#2f97ee"/>
<rect x="879.0" y="341.0" width="1" height="32.5" fill="#2f97ee"/>
<rect x="882.5" y="332.0" width="1" height="32.5" fill="#ffffff"/>
<rect x="886.0" y="340.5" width="1" height="65.0" fill="#ffffff"/>
<rect x="889.0" y="387.5" width="1" height="32.5" fill="#2f97ee"/>
<rect x="892.5" y="376.5" width="1" height="22.0" fill="#2f97ee"/>
<rect x="895.5" y="376.5" width="1" height="18.5" fill="#ffffff"/>
<rect x="899.0" y="373.5" width="1" height="17.0" fill="#2f97ee"/>
<rect x="902.0" y="338.0" width="1" height="58.0" fill="#2f97ee"/>
<rect x="905.5" y="296.0" width="1" height="71.0" fill="#2f97ee"/>
<rect x="909.0" y="280.0" width="1" height="68.5" fill="#2f97ee"/>
<rect x="912.0" y="287.5" width="1" height="32.5" fill="#ffffff"/>
<rect x="915.5" y="296.5" width="1" height="23.5" fill="#2f97ee"/>
<rect x="918.5" y="296.5" width="1" height="18.0" fill="#2f97ee"/>
<rect x="922.0" y="236.5" width="1" height="70.5" fill="#2f97ee"/>
<rect x="925.5" y="217.0" width="1" height="27.0" fill="#2f97ee"/>
<rect x="928.5" y="211.5" width="1" height="35.0" fill="#2f97ee"/>
<rect x="932.0" y="216.0" width="1" height="20.5" fill="#2f97ee"/>
<rect x="935.0" y="208.5" width="1" height="25.5" fill="#2f97ee"/>
<rect x="938.5" y="203.5" width="1" height="23.5" fill="#ffffff"/>
<rect x="942.0" y="204.5" width="1" height="31.0" fill="#ffffff"/>
<rect x="945.0" y="200.5" width="1" height="54.5" fill="#ffffff"/>
<rect x="948.5" y="242.5" width="1" height="41.0" fill="#ffffff"/>
<rect x="951.5" y="263.0" width="1" height="18.5" fill="#2f97ee"/>
<rect x="955.0" y="266.0" width="1" height="18.0" fill="#2f97ee"/>
<rect x="958.0" y="249.0" width="1" height="22.5" fill="#2f97ee"/>
<rect x="961.5" y="239.0" width="1" height="20.0" fill="#ffffff"/>
<rect x="965.0" y="228.5" width="1" height="26.5" fill="#2f97ee"/>
<rect x="968.0" y="222.5" width="1" height="23.5" fill="#ffffff"/>
<rect x="971.5" y="240.5" width="1" height="17.0" fill="#ffffff"/>
<rect x="974.5" y="236.5" width="1" height="18.5" fill="#2f97ee"/>
<rect x="978.0" y="232.5" width="1" height="18.5" fill="#2f97ee"/>
<rect x="981.5" y="233.5" width="1" height="38.0" fill="#ffffff"/>
<rect x="984.5" y="249.5" width="1" height="17.5" fill="#ffffff"/>
<rect x="988.0" y="254.5" width="1" height="11.0" fill="#ffffff"/>
<rect x="8.5" y="245.5" width="3" height="39.0" fill="#ffffff"/>
<rect x="12.0" y="264.0" width="3" height="56.5" fill="#ffffff"/>
<rect x="15.0" y="298.5" width="3" height="22.0" fill="#2f97ee"/>
<rect x="18.5" y="298.5" width="3" height="10.5" fill="#ffffff"/>
<rect x="21.5" y="308.0" width="3" height="8.5" fill="#ffffff"/>
<rect x="25.0" y="316.5" width="3" height="1.5" fill="#ffffff"/>
<rect x="28.5" y="316.0" width="3" height="10.5" fill="#ffffff"/>
<rect x="31.5" y="312.5" width="3" height="18.5" fill="#2f97ee"/>
<rect x="35.0" y="286.0" width="3" height="26.5" fill="#2f97ee"/>
<rect x="38.0" y="251.5" width="3" height="34.5" fill="#2f97ee"/>
<rect x="41.5" y="251.5" width="3" height="13.5" fill="#ffffff"/>
<rect x="45.0" y="214.0" width="3" height="50.0" fill="#2f97ee"/>
<rect x="48.0" y="213.5" width="3" height="1.5" fill="#ffffff"/>
<rect x="51.5" y="215.0" width="3" height="18.5" fill="#ffffff"/>
<rect x="54.5" y="183.5" width="3" height="51.0" fill="#2f97ee"/>
<rect x="58.0" y="183.5" width="3" height="22.0" fill="#ffffff"/>
<rect x="61.5" y="180.5" width="3" height="25.0" fill="#2f97ee"/>
<rect x="64.5" y="181.0" width="3" height="48.5" fill="#ffffff"/>
<rect x="68.0" y="228.0" width="3" height="41.0" fill="#ffffff"/>
<rect x="71.0" y="240.5" width="3" height="28.5" fill="#2f97ee"/>
<rect x="74.5" y="240.5" width="3" height="29.0" fill="#ffffff"/>
<rect x="77.5" y="201.0" width="3" height="68.5" fill="#2f97ee"/>
<rect x="81.0" y="201.5" width="3" height="39.0" fill="#ffffff"/>
<rect x="84.5" y="251.0" width="3" height="11.0" fill="#2f97ee"/>
<rect x="87.5" y="251.0" width="3" height="4.0" fill="#ffffff"/>
<rect x="91.0" y="218.0" width="3" height="37.0" fill="#2f97ee"/>
<rect x="94.0" y="214.0" width="3" height="5.5" fill="#2f97ee"/>
<rect x="97.5" y="186.5" width="3" height="28.5" fill="#2f97ee"/>
<rect x="101.0" y="186.0" width="3" height="43.0" fill="#ffffff"/>
<rect x="104.0" y="228.0" width="3" height="5.0" fill="#ffffff"/>
<rect x="107.5" y="225.0" width="3" height="7.0" fill="#2f97ee"/>
<rect x="110.5" y="224.0" width="3" height="29.5" fill="#ffffff"/>
<rect x="114.0" y="252.5" width="3" height="2.5" fill="#ffffff"/>
<rect x="117.5" y="254.0" width="3" height="84.5" fill="#ffffff"/>
<rect x="120.5" y="338.0" width="3" height="50.5" fill="#ffffff"/>
<rect x="124.0" y="384.0" width="3" height="4.5" fill="#2f97ee"/>
<rect x="127.0" y="370.0" width="3" height="14.0" fill="#2f97ee"/>
<rect x="130.5" y="360.5" width="3" height="11.0" fill="#2f97ee"/>
<rect x="133.5" y="360.5" width="3" height="6.0" fill="#ffffff"/>
<rect x="137.0" y="356.0" width="3" height="10.5" fill="#2f97ee"/>
<rect x="140.5" y="356.0" width="3" height="43.5" fill="#ffffff"/>
<rect x="143.5" y="399.5" width="3" height="3.0" fill="#ffffff"/>
<rect x="147.0" y="402.0" width="3" height="5.0" fill="#ffffff"/>
<rect x="150.0" y="388.5" width="3" height="19.0" fill="#2f97ee"/>
<rect x="153.5" y="373.0" width="3" height="15.5" fill="#2f97ee"/>
<rect x="157.0" y="373.0" width="3" height="18.5" fill="#ffffff"/>
<rect x="160.0" y="345.0" width="3" height="46.5" fill="#2f97ee"/>
<rect x="163.5" y="319.5" width="3" height="25.5" fill="#2f97ee"/>
<rect x="166.5" y="311.0" width="3" height="10.0" fill="#2f97ee"/>
<rect x="170.0" y="312.0" width="3" height="6.0" fill="#ffffff"/>
<rect x="173.5" y="305.0" width="3" height="12.5" fill="#2f97ee"/>
<rect x="176.5" y="305.0" width="3" height="34.5" fill="#ffffff"/>
<rect x="180.0" y="339.5" width="3" height="25.5" fill="#ffffff"/>
<rect x="183.0" y="395.0" width="3" height="27.0" fill="#2f97ee"/>
<rect x="186.5" y="395.0" width="3" height="13.5" fill="#ffffff"/>
<rect x="189.5" y="403.5" width="3" height="5.0" fill="#2f97ee"/>
<rect x="193.0" y="403.5" width="3" height="24.5" fill="#ffffff"/>
<rect x="196.5" y="314.0" width="3" height="114.0" fill="#2f97ee"/>
<rect x="199.5" y="282.0" width="3" height="34.0" fill="#2f97ee"/>
<rect x="203.0" y="252.0" width="3" height="31.0" fill="#2f97ee"/>
<rect x="206.0" y="234.5" width="3" height="18.0" fill="#2f97ee"/>
<rect x="209.5" y="193.5" width="3" height="41.0" fill="#2f97ee"/>
<rect x="213.0" y="192.0" width="3" height="2.5" fill="#2f97ee"/>
<rect x="216.0" y="168.0" width="3" height="27.0" fill="#2f97ee"/>
<rect x="219.5" y="168.0" width="3" height="13.0" fill="#ffffff"/>
<rect x="222.5" y="175.5" width="3" height="5.5" fill="#2f97ee"/>
<rect x="226.0" y="176.5" width="3" height="1.5" fill="#ffffff"/>
<rect x="229.5" y="171.0" width="3" height="7.0" fill="#2f97ee"/>
<rect x="232.5" y="171.0" width="3" height="28.0" fill="#ffffff"/>
<rect x="236.0" y="150.5" width="3" height="48.5" fill="#2f97ee"/>
<rect x="239.0" y="126.5" width="3" height="25.0" fill="#2f97ee"/>
<rect x="242.5" y="96.0" width="3" height="31.5" fill="#2f97ee"/>
<rect x="245.5" y="83.5" width="3" height="12.5" fill="#2f97ee"/>
<rect x="249.0" y="29.5" width="3" height="55.0" fill="#2f97ee"/>
<rect x="252.5" y="29.5" width="3" height="35.5" fill="#ffffff"/>
<rect x="255.5" y="25.0" width="3" height="40.0" fill="#2f97ee"/>
<rect x="259.0" y="25.0" width="3" height="32.0" fill="#ffffff"/>
<rect x="262.0" y="50.0" width="3" height="7.0" fill="#2f97ee"/>
<rect x="265.5" y="51.0" width="3" height="9.0" fill="#ffffff"/>
<rect x="269.0" y="42.0" width="3" height="18.0" fill="#2f97ee"/>
<rect x="272.0" y="42.0" width="3" height="2.0" fill="#ffffff"/>
<rect x="275.5" y="42.0" width="3" height="35.5" fill="#ffffff"/>
<rect x="278.5" y="66.0" width="3" height="11.5" fill="#2f97ee"/>
<rect x="282.0" y="69.0" width="3" height="10.5" fill="#2f97ee"/>
<rect x="285.5" y="51.5" width="3" height="19.0" fill="#2f97ee"/>
<rect x="288.5" y="51.5" width="3" height="34.5" fill="#ffffff"/>
<rect x="292.0" y="85.0" width="3" height="7.0" fill="#ffffff"/>
<rect x="295.0" y="69.0" width="3" height="23.0" fill="#2f97ee"/>
<rect x="298.5" y="49.0" width="3" height="20.5" fill="#2f97ee"/>
<rect x="301.5" y="44.5" width="3" height="5.5" fill="#2f97ee"/>
<rect x="305.0" y="40.5" width="3" height="4.0" fill="#2f97ee"/>
<rect x="308.5" y="26.0" width="3" height="14.5" fill="#2f97ee"/>
<rect x="311.5" y="26.0" width="3" height="7.5" fill="#ffffff"/>
<rect x="315.0" y="33.5" width="3" height="23.5" fill="#ffffff"/>
<rect x="318.0" y="31.0" width="3" height="26.0" fill="#2f97ee"/>
<rect x="321.5" y="30.5" width="3" height="6.0" fill="#2f97ee"/>
<rect x="325.0" y="31.0" width="3" height="3.0" fill="#ffffff"/>
<rect x="328.0" y="34.0" width="3" height="53.5" fill="#ffffff"/>
<rect x="331.5" y="86.5" width="3" height="100.0" fill="#ffffff"/>
<rect x="334.5" y="160.0" width="3" height="26.5" fill="#2f97ee"/>
<rect x="338.0" y="158.0" width="3" height="2.0" fill="#2f97ee"/>
<rect x="341.5" y="142.0" width="3" height="19.0" fill="#2f97ee"/>
<rect x="344.5" y="142.0" width="3" height="21.0" fill="#ffffff"/>
<rect x="348.0" y="123.5" width="3" height="39.5" fill="#2f97ee"/>
<rect x="351.0" y="123.5" width="3" height="55.5" fill="#ffffff"/>
<rect x="354.5" y="138.0" width="3" height="41.0" fill="#2f97ee"/>
<rect x="357.5" y="134.0" width="3" height="5.0" fill="#2f97ee"/>
<rect x="361.0" y="124.0" width="3" height="12.0" fill="#2f97ee"/>
<rect x="364.5" y="113.0" width="3" height="12.0" fill="#2f97ee"/>
<rect x="367.5" y="113.5" width="3" height="12.0" fill="#ffffff"/>
<rect x="371.0" y="124.0" width="3" height="33.0" fill="#ffffff"/>
<rect x="374.0" y="143.0" width="3" height="14.0" fill="#2f97ee"/>
<rect x="377.5" y="143.0" width="3" height="9.0" fill="#ffffff"/>
<rect x="381.0" y="142.0" width="3" height="18.0" fill="#2f97ee"/>
<rect x="384.0" y="142.0" width="3" height="34.5" fill="#ffffff"/>
<rect x="387.5" y="175.5" width="3" height="42.0" fill="#ffffff"/>
<rect x="390.5" y="176.0" width="3" height="41.5" fill="#2f97ee"/>
<rect x="394.0" y="176.0" width="3" height="24.5" fill="#ffffff"/>
<rect x="397.0" y="195.5" width="3" height="5.0" fill="#2f97ee"/>
<rect x="400.5" y="163.5" width="3" height="32.5" fill="#2f97ee"/>
<rect x="404.0" y="159.5" width="3" height="4.0" fill="#2f97ee"/>
<rect x="407.0" y="159.5" width="3" height="22.0" fill="#ffffff"/>
<rect x="410.5" y="180.5" width="3" height="39.0" fill="#ffffff"/>
<rect x="413.5" y="216.5" width="3" height="3.0" fill="#2f97ee"/>
<rect x="417.0" y="216.0" width="3" height="3.5" fill="#2f97ee"/>
<rect x="420.5" y="210.5" width="3" height="6.0" fill="#2f97ee"/>
<rect x="423.5" y="209.0" width="3" height="2.0" fill="#ffffff"/>
<rect x="427.0" y="193.0" width="3" height="18.0" fill="#2f97ee"/>
<rect x="430.0" y="186.0" width="3" height="8.0" fill="#2f97ee"/>
<rect x="433.5" y="186.0" width="3" height="27.5" fill="#ffffff"/>
<rect x="437.0" y="211.0" width="3" height="2.5" fill="#2f97ee"/>
<rect x="440.0" y="184.0" width="3" height="28.0" fill="#2f97ee"/>
<rect x="443.5" y="184.0" width="3" height="6.0" fill="#ffffff"/>
<rect x="446.5" y="188.5" width="3" height="3.0" fill="#2f97ee"/>
<rect x="450.0" y="188.5" width="3" height="51.0" fill="#ffffff"/>
<rect x="453.0" y="231.5" width="3" height="7.5" fill="#2f97ee"/>
<rect x="456.5" y="224.5" width="3" height="10.5" fill="#2f97ee"/>
<rect x="460.0" y="224.5" width="3" height="20.5" fill="#ffffff"/>
<rect x="463.0" y="238.0" width="3" height="7.0" fill="#2f97ee"/>
<rect x="466.5" y="244.0" width="3" height="22.5" fill="#ffffff"/>
<rect x="469.5" y="266.5" width="3" height="35.5" fill="#ffffff"/>
<rect x="473.0" y="299.0" width="3" height="3.0" fill="#2f97ee"/>
<rect x="476.5" y="299.0" width="3" height="26.0" fill="#ffffff"/>
<rect x="479.5" y="308.0" width="3" height="17.0" fill="#2f97ee"/>
<rect x="483.0" y="308.0" width="3" height="25.5" fill="#ffffff"/>
<rect x="486.0" y="333.0" width="3" height="1.0" fill="#ffffff"/>
<rect x="489.5" y="330.5" width="3" height="3.0" fill="#2f97ee"/>
<rect x="493.0" y="331.0" width="3" height="48.5" fill="#ffffff"/>
<rect x="496.0" y="379.0" width="3" height="10.5" fill="#ffffff"/>
<rect x="499.5" y="379.0" width="3" height="10.5" fill="#2f97ee"/>
<rect x="502.5" y="379.0" width="3" height="5.0" fill="#ffffff"/>
<rect x="506.0" y="366.5" width="3" height="17.0" fill="#2f97ee"/>
<rect x="509.0" y="365.0" width="3" height="1.5" fill="#2f97ee"/>
<rect x="512.5" y="365.0" width="3" height="69.0" fill="#ffffff"/>
<rect x="516.0" y="434.0" width="3" height="8.5" fill="#ffffff"/>
<rect x="519.0" y="425.5" width="3" height="17.0" fill="#2f97ee"/>
<rect x="522.5" y="422.0" width="3" height="4.0" fill="#2f97ee"/>
<rect x="525.5" y="422.0" width="3" height="7.0" fill="#ffffff"/>
<rect x="529.0" y="427.5" width="3" height="1.5" fill="#2f97ee"/>
<rect x="532.5" y="394.5" width="3" height="33.0" fill="#2f97ee"/>
<rect x="535.5" y="394.5" width="3" height="2.5" fill="#ffffff"/>
<rect x="539.0" y="397.5" width="3" height="21.5" fill="#ffffff"/>
<rect x="542.0" y="419.0" width="3" height="5.0" fill="#ffffff"/>
<rect x="545.5" y="407.5" width="3" height="16.5" fill="#2f97ee"/>
<rect x="549.0" y="407.5" width="3" height="10.0" fill="#ffffff"/>
<rect x="552.0" y="416.5" width="3" height="2.0" fill="#ffffff"/>
<rect x="555.5" y="402.0" width="3" height="16.5" fill="#2f97ee"/>
<rect x="558.5" y="383.0" width="3" height="19.5" fill="#2f97ee"/>
<rect x="562.0" y="383.5" width="3" height="8.5" fill="#ffffff"/>
<rect x="565.0" y="376.5" width="3" height="15.5" fill="#2f97ee"/>
<rect x="568.5" y="353.0" width="3" height="24.5" fill="#2f97ee"/>
<rect x="572.0" y="353.0" width="3" height="45.0" fill="#ffffff"/>
<rect x="575.0" y="397.0" width="3" height="12.5" fill="#ffffff"/>
<rect x="578.5" y="409.0" width="3" height="6.0" fill="#ffffff"/>
<rect x="581.5" y="398.0" width="3" height="17.0" fill="#2f97ee"/>
<rect x="585.0" y="359.5" width="3" height="38.5" fill="#2f97ee"/>
<rect x="588.5" y="329.0" width="3" height="31.0" fill="#2f97ee"/>
<rect x="591.5" y="311.5" width="3" height="18.0" fill="#2f97ee"/>
<rect x="595.0" y="311.0" width="3" height="8.5" fill="#ffffff"/>
<rect x="598.0" y="319.0" width="3" height="7.0" fill="#ffffff"/>
<rect x="601.5" y="325.0" width="3" height="8.0" fill="#ffffff"/>
<rect x="605.0" y="317.0" width="3" height="16.0" fill="#2f97ee"/>
<rect x="608.0" y="317.0" width="3" height="11.0" fill="#ffffff"/>
<rect x="611.5" y="273.5" width="3" height="54.5" fill="#2f97ee"/>
<rect x="614.5" y="273.5" width="3" height="4.0" fill="#ffffff"/>
<rect x="618.0" y="276.0" width="3" height="1.5" fill="#2f97ee"/>
<rect x="621.0" y="275.0" width="3" height="1.5" fill="#2f97ee"/>
<rect x="624.5" y="259.5" width="3" height="16.5" fill="#2f97ee"/>
<rect x="628.0" y="255.5" width="3" height="4.5" fill="#2f97ee"/>
<rect x="631.0" y="237.5" width="3" height="18.5" fill="#2f97ee"/>
<rect x="634.5" y="219.0" width="3" height="19.5" fill="#2f97ee"/>
<rect x="637.5" y="219.0" width="3" height="5.0" fill="#ffffff"/>
<rect x="641.0" y="218.0" width="3" height="6.0" fill="#2f97ee"/>
<rect x="644.5" y="218.0" width="3" height="40.0" fill="#ffffff"/>
<rect x="647.5" y="257.0" width="3" height="10.0" fill="#ffffff"/>
<rect x="651.0" y="267.0" width="3" height="27.5" fill="#ffffff"/>
<rect x="654.0" y="294.0" width="3" height="8.0" fill="#ffffff"/>
<rect x="657.5" y="293.5" width="3" height="9.5" fill="#2f97ee"/>
<rect x="661.0" y="297.5" width="3" height="19.0" fill="#ffffff"/>
<rect x="664.0" y="315.5" width="3" height="31.5" fill="#ffffff"/>
<rect x="667.5" y="347.5" width="3" height="34.5" fill="#ffffff"/>
<rect x="670.5" y="381.0" width="3" height="14.5" fill="#ffffff"/>
<rect x="674.0" y="377.0" width="3" height="18.5" fill="#2f97ee"/>
<rect x="677.0" y="370.5" width="3" height="26.0" fill="#2f97ee"/>
<rect x="680.5" y="370.0" width="3" height="8.5" fill="#ffffff"/>
<rect x="684.0" y="378.5" width="3" height="17.0" fill="#ffffff"/>
<rect x="687.0" y="376.0" width="3" height="19.5" fill="#2f97ee"/>
<rect x="690.5" y="375.5" width="3" height="68.0" fill="#ffffff"/>
<rect x="693.5" y="442.5" width="3" height="30.5" fill="#ffffff"/>
<rect x="697.0" y="472.5" width="3" height="8.5" fill="#ffffff"/>
<rect x="700.5" y="475.5" width="3" height="5.5" fill="#2f97ee"/>
<rect x="703.5" y="475.5" width="3" height="10.0" fill="#ffffff"/>
<rect x="707.0" y="485.0" width="3" height="30.0" fill="#ffffff"/>
<rect x="710.0" y="488.0" width="3" height="26.5" fill="#2f97ee"/>
<rect x="713.5" y="483.5" width="3" height="5.5" fill="#2f97ee"/>
<rect x="717.0" y="456.5" width="3" height="27.5" fill="#2f97ee"/>
<rect x="720.0" y="456.5" width="3" height="18.0" fill="#ffffff"/>
<rect x="723.5" y="456.0" width="3" height="18.5" fill="#2f97ee"/>
<rect x="726.5" y="456.0" width="3" height="66.0" fill="#ffffff"/>
<rect x="730.0" y="521.5" width="3" height="31.0" fill="#ffffff"/>
<rect x="733.0" y="552.5" width="3" height="47.5" fill="#ffffff"/>
<rect x="740.0" y="566.5" width="3" height="33.5" fill="#2f97ee"/>
<rect x="743.0" y="566.5" width="3" height="33.5" fill="#ffffff"/>
<rect x="766.0" y="549.5" width="3" height="50.5" fill="#2f97ee"/>
<rect x="769.5" y="549.5" width="3" height="50.5" fill="#ffffff"/>
<rect x="773.0" y="563.5" width="3" height="36.5" fill="#2f97ee"/>
<rect x="776.0" y="566.5" width="3" height="9.5" fill="#ffffff"/>
<rect x="779.5" y="556.5" width="3" height="19.5" fill="#2f97ee"/>
<rect x="782.5" y="553.0" width="3" height="3.5" fill="#2f97ee"/>
<rect x="786.0" y="534.5" width="3" height="22.0" fill="#2f97ee"/>
<rect x="789.0" y="534.5" width="3" height="14.5" fill="#ffffff"/>
<rect x="792.5" y="548.0" width="3" height="5.5" fill="#ffffff"/>
<rect x="796.0" y="533.0" width="3" height="16.0" fill="#2f97ee"/>
<rect x="799.0" y="533.0" width="3" height="15.0" fill="#ffffff"/>
<rect x="802.5" y="548.0" width="3" height="8.0" fill="#ffffff"/>
<rect x="805.5" y="552.5" width="3" height="3.5" fill="#2f97ee"/>
<rect x="809.0" y="520.5" width="3" height="33.0" fill="#2f97ee"/>
<rect x="812.5" y="520.5" width="3" height="15.5" fill="#ffffff"/>
<rect x="815.5" y="531.0" width="3" height="5.0" fill="#2f97ee"/>
<rect x="819.0" y="517.5" width="3" height="14.0" fill="#2f97ee"/>
<rect x="822.0" y="518.0" width="3" height="33.0" fill="#ffffff"/>
<rect x="825.5" y="512.5" width="3" height="38.5" fill="#2f97ee"/>
<rect x="829.0" y="478.5" width="3" height="34.0" fill="#2f97ee"/>
<rect x="832.0" y="477.0" width="3" height="2.5" fill="#2f97ee"/>
<rect x="835.5" y="477.0" width="3" height="1.5" fill="#2f97ee"/>
<rect x="838.5" y="453.5" width="3" height="25.0" fill="#2f97ee"/>
<rect x="842.0" y="451.0" width="3" height="2.5" fill="#2f97ee"/>
<rect x="845.0" y="395.5" width="3" height="58.0" fill="#2f97ee"/>
<rect x="848.5" y="385.0" width="3" height="10.0" fill="#2f97ee"/>
<rect x="852.0" y="372.5" width="3" height="12.5" fill="#2f97ee"/>
<rect x="855.0" y="364.5" width="3" height="9.0" fill="#2f97ee"/>
<rect x="858.5" y="364.5" width="3" height="15.0" fill="#ffffff"/>
<rect x="861.5" y="379.0" width="3" height="1.5" fill="#ffffff"/>
<rect x="865.0" y="379.5" width="3" height="13.5" fill="#ffffff"/>
<rect x="868.5" y="364.5" width="3" height="28.5" fill="#2f97ee"/>
<rect x="871.5" y="364.0" width="3" height="2.0" fill="#2f97ee"/>
<rect x="875.0" y="370.0" width="3" height="11.0" fill="#2f97ee"/>
<rect x="878.0" y="343.0" width="3" height="29.5" fill="#2f97ee"/>
<rect x="881.5" y="343.5" width="3" height="3.0" fill="#ffffff"/>
<rect x="885.0" y="346.5" width="3" height="46.5" fill="#ffffff"/>
<rect x="888.0" y="390.5" width="3" height="3.0" fill="#2f97ee"/>
<rect x="891.5" y="383.5" width="3" height="7.0" fill="#2f97ee"/>
<rect x="894.5" y="383.5" width="3" height="1.5" fill="#ffffff"/>
<rect x="898.0" y="375.0" width="3" height="10.0" fill="#2f97ee"/>
<rect x="901.0" y="340.5" width="3" height="35.0" fill="#2f97ee"/>
<rect x="904.5" y="322.5" width="3" height="18.5" fill="#2f97ee"/>
<rect x="908.0" y="289.0" width="3" height="33.5" fill="#2f97ee"/>
<rect x="911.0" y="289.0" width="3" height="20.0" fill="#ffffff"/>
<rect x="914.5" y="304.0" width="3" height="5.0" fill="#2f97ee"/>
<rect x="917.5" y="300.5" width="3" height="3.5" fill="#2f97ee"/>
<rect x="921.0" y="243.5" width="3" height="57.0" fill="#2f97ee"/>
<rect x="924.5" y="239.5" width="3" height="4.0" fill="#2f97ee"/>
<rect x="927.5" y="224.5" width="3" height="15.0" fill="#2f97ee"/>
<rect x="931.0" y="222.0" width="3" height="2.5" fill="#2f97ee"/>
<rect x="934.0" y="210.0" width="3" height="14.0" fill="#2f97ee"/>
<rect x="937.5" y="210.0" width="3" height="12.5" fill="#ffffff"/>
<rect x="941.0" y="222.5" width="3" height="3.0" fill="#ffffff"/>
<rect x="944.0" y="225.5" width="3" height="22.5" fill="#ffffff"/>
<rect x="947.5" y="247.5" width="3" height="33.5" fill="#ffffff"/>
<rect x="950.5" y="275.5" width="3" height="5.5" fill="#2f97ee"/>
<rect x="954.0" y="267.0" width="3" height="9.0" fill="#2f97ee"/>
<rect x="957.0" y="253.5" width="3" height="14.0" fill="#2f97ee"/>
<rect x="960.5" y="253.5" width="3" height="1.5" fill="#ffffff"/>
<rect x="964.0" y="239.0" width="3" height="15.5" fill="#2f97ee"/>
<rect x="967.0" y="238.0" width="3" height="4.5" fill="#ffffff"/>
<rect x="970.5" y="242.0" width="3" height="7.5" fill="#ffffff"/>
<rect x="973.5" y="247.5" width="3" height="3.5" fill="#2f97ee"/>
<rect x="977.0" y="235.0" width="3" height="14.0" fill="#2f97ee"/>
<rect x="980.5" y="235.5" width="3" height="19.5" fill="#ffffff"/>
<rect x="983.5" y="254.5" width="3" height="3.0" fill="#ffffff"/>
<rect x="987.0" y="256.5" width="3" height="8.0" fill="#ffffff"/>
<g><circle cx="988" cy="566" r="9.4" fill="#0c0e15" stroke="#b25ac6" stroke-width="1.6"/><path d="M990.2 560.6 L984 567.4 L987.5 567.4 L985.9 571.8 L992 564.8 L988.5 564.8 Z" fill="#c44ee6" stroke="#c44ee6" stroke-width="0.5" stroke-linejoin="round"/><circle cx="995" cy="559.3" r="3.9" fill="#10121a"/><circle cx="995" cy="559.3" r="2.7" fill="#ff4560"/></g>
</g>
<g font-size="12" fill="#c3c5cc" stroke="#c3c5cc" stroke-width="0.2">
<text x="17.5" y="44.6" textLength="201" lengthAdjust="spacing">British Pound / U.S. Dollar · 4h · FXCM</text>
<text x="227" y="44.6"><tspan fill="#c3c5cc">O</tspan><tspan fill="#f2f2f2" stroke="#f2f2f2">1.35438</tspan></text>
<text x="285.3" y="44.6"><tspan fill="#c3c5cc">H</tspan><tspan fill="#f2f2f2" stroke="#f2f2f2">1.35463</tspan></text>
<text x="344" y="44.6"><tspan fill="#c3c5cc">L</tspan><tspan fill="#f2f2f2" stroke="#f2f2f2">1.35359</tspan></text>
<text x="400.8" y="44.6"><tspan fill="#c3c5cc">C</tspan><tspan fill="#f2f2f2" stroke="#f2f2f2">1.35375</tspan></text>
<text x="457.5" y="44.6" fill="#f2f2f2" stroke="#f2f2f2">−0.00063 (−0.05%)</text>
<text x="17.5" y="60.4">MA (50, close, 0)</text><text x="115" y="60.4" fill="#2e8ad8" stroke="#2e8ad8">1.34832</text>
<text x="17.5" y="76.3">MA (100, close, 0)</text><text x="120.6" y="76.3" fill="#43a04a" stroke="#43a04a">1.33992</text>
</g>
<g stroke="#282c38" stroke-width="1" shape-rendering="crispEdges"><line x1="1202.5" y1="25.5" x2="1202.5" y2="604.5"/><line x1="9.5" y1="578.5" x2="1270.5" y2="578.5"/></g>
<g font-size="11.5" fill="#b8bbc3" stroke="#b8bbc3" stroke-width="0.15" letter-spacing="0.5">
<text x="1212.5" y="88.3">1.37000</text>
<text x="1212.5" y="143.5">1.36500</text>
<text x="1212.5" y="187.8">1.36100</text>
<text x="1212.5" y="232.3">1.35700</text>
<text x="1212.5" y="321.6">1.34900</text>
<text x="1212.5" y="366.4">1.34500</text>
<text x="1212.5" y="400.1">1.34200</text>
<text x="1212.5" y="433.9">1.33900</text>
<text x="1212.5" y="467.8">1.33600</text>
<text x="1212.5" y="501.7">1.33300</text>
<text x="1212.5" y="530.1">1.33050</text>
<text x="1212.5" y="558.5">1.32800</text>
</g>
<g font-size="11.5" fill="#b8bbc3" stroke="#b8bbc3" stroke-width="0.15">
<text x="10.2" y="596.4" text-anchor="start">0</text>
<text x="69.1" y="596.4" text-anchor="middle">13</text>
<text x="128.4" y="596.4" text-anchor="middle">18</text>
<text x="184.4" y="596.4" text-anchor="middle">22</text>
<text x="247.0" y="596.4" text-anchor="middle">26</text>
<text x="306.3" y="596.4" text-anchor="middle" font-weight="bold">Jul</text>
<text x="365.6" y="596.4" text-anchor="middle">4</text>
<text x="424.9" y="596.4" text-anchor="middle">9</text>
<text x="480.9" y="596.4" text-anchor="middle">13</text>
<text x="543.5" y="596.4" text-anchor="middle">17</text>
<text x="602.8" y="596.4" text-anchor="middle">22</text>
<text x="662.1" y="596.4" text-anchor="middle">25</text>
<text x="761.0" y="596.4" text-anchor="middle" font-weight="bold">Aug</text>
<text x="820.3" y="596.4" text-anchor="middle">6</text>
<text x="876.3" y="596.4" text-anchor="middle">10</text>
<text x="938.9" y="596.4" text-anchor="middle">14</text>
<text x="998.2" y="596.4" text-anchor="middle">19</text>
<text x="1057.5" y="596.4" text-anchor="middle">22</text>
<text x="1116.8" y="596.4" text-anchor="middle">27</text>
<text x="1176.1" y="596.4" text-anchor="middle" font-weight="bold">Sep</text>
</g>
<rect x="1206.5" y="29.5" width="60" height="24" rx="3" fill="#121212" stroke="#23252c"/>
<text x="1215.5" y="45.6" font-size="11.6" fill="#e6e6e6" stroke="#e6e6e6" stroke-width="0.25" textLength="22.9" lengthAdjust="spacingAndGlyphs">USD</text>
<rect x="1203.5" y="187" width="58.5" height="15.3" fill="#f5000f"/>
<text x="1212.5" y="198.8" font-size="11.5" fill="#fff" letter-spacing="0.5">1.36000</text>
<rect x="1203.5" y="240.5" width="58.5" height="15.5" fill="#797c88"/>
<text x="1212.5" y="252.4" font-size="11.5" fill="#fff" letter-spacing="0.5">1.35400</text>
<rect x="1203" y="256" width="63" height="29.5" rx="2" fill="#ffffff"/>
<text x="1212.5" y="267.8" font-size="11.5" fill="#131722" letter-spacing="0.5">1.35375</text>
<text x="1212.5" y="281.2" font-size="11.5" fill="#5d606b" letter-spacing="0.5">02:59:21</text>
<rect x="1203.5" y="439.3" width="58.5" height="15.2" fill="#4a8df0"/>
<text x="1212.5" y="451" font-size="11.5" fill="#fff" letter-spacing="0.5">1.33750</text>
<text x="9.5" y="19.3" font-size="12" fill="#e3e3e3" stroke="#e3e3e3" stroke-width="0.25" textLength="386.5" lengthAdjust="spacing">Simon_Weber created with TradingView.com, Aug 18, 2025 15:00 UTC+1</text>
<g transform="translate(11,621.6) scale(0.79)" fill="#dedede"><path d="M14 22H7V11H0V4h14v18zM28 22h-8l7.5-18h8L28 22z"/><circle cx="20" cy="8" r="4"/></g>
<text x="46" y="639.5" font-size="20.2" font-weight="bold" fill="#dedede" textLength="114.5" lengthAdjust="spacingAndGlyphs">TradingView</text>
</svg>
</body></html>
